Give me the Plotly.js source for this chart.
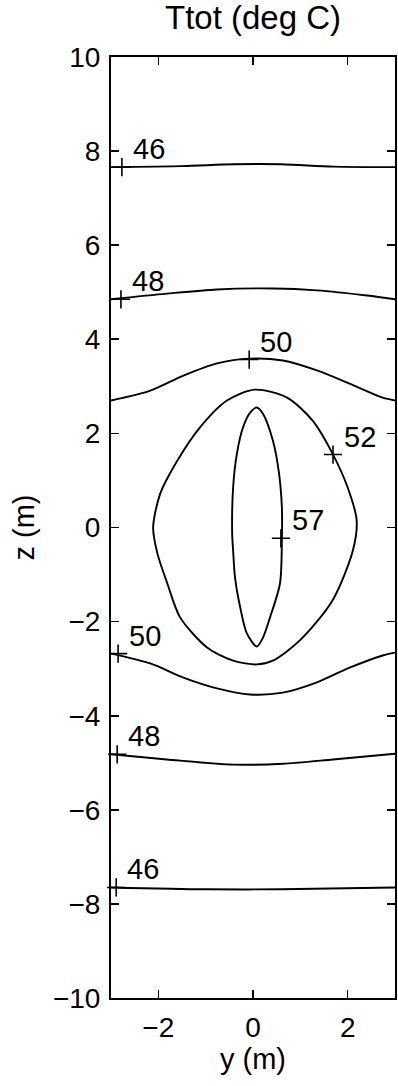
<!DOCTYPE html>
<html>
<head>
<meta charset="utf-8">
<script src="https://cdn.plot.ly/plotly-3.0.1.min.js"></script>
<style>
  html, body { margin: 0; padding: 0; background: #fff; }
  #chart { width: 398px; height: 1086px; }
</style>
</head>
<body>
<div id="chart"></div>
<script>
// Ttot (deg C) contour lines
// y = horizontal position (m), z = height (m)

// 46 contours (top and bottom)
var c46TopY = [-3, -1.5, -0.4, 0.6, 1.7, 3];
var c46TopZ = [7.66, 7.68, 7.72, 7.72, 7.67, 7.66];
var c46BotY = [-3, -1.0, 0.6, 3];
var c46BotZ = [-7.65, -7.69, -7.69, -7.65];

// 48 contours
var c48TopY = [-3, -1.82, -0.76, 0.42, 1.35, 2.41, 3];
var c48TopZ = [4.85, 4.97, 5.06, 5.08, 5.04, 4.93, 4.85];
var c48BotY = [-3, -1.82, -0.42, 0.63, 1.69, 3];
var c48BotZ = [-4.82, -4.93, -5.04, -5.02, -4.93, -4.81];

// 50 contours
var c50TopY = [-3, -2.17, -1.47, -0.76, -0.06, 0.63, 1.35, 2.04, 2.74, 3];
var c50TopZ = [2.70, 2.91, 3.23, 3.49, 3.59, 3.55, 3.34, 3.06, 2.76, 2.70];
var c50BotY = [-3, -2.17, -1.47, -0.76, -0.06, 0.63, 1.35, 2.04, 2.74, 3];
var c50BotZ = [-2.68, -2.89, -3.19, -3.42, -3.55, -3.51, -3.29, -2.98, -2.72, -2.66];

// 52 closed contour
var c52Y = [0.04, 0.72, 1.26, 1.68, 2.00, 2.19, 2.11, 1.68, 0.99, 0.42, 0.08,
            -0.42, -0.97, -1.54, -1.81, -2.02, -2.11, -1.96, -1.60, -1.12, -0.55, 0.04];
var c52Z = [2.93, 2.76, 2.27, 1.57, 0.85, 0.15, -0.49, -1.55, -2.40, -2.83, -2.91,
            -2.83, -2.55, -1.91, -1.19, -0.55, 0.00, 0.72, 1.42, 2.13, 2.70, 2.93];

// 57 closed contour
var c57Y = [0.08, 0.21, 0.42, 0.55, 0.61, 0.61, 0.57, 0.36, 0.21, 0.08,
            -0.13, -0.27, -0.38, -0.42, -0.44, -0.42, -0.34, -0.21, -0.06, 0.08];
var c57Z = [2.55, 2.42, 1.85, 1.15, 0.43, -0.28, -1.19, -1.91, -2.34, -2.53,
            -2.25, -1.70, -1.06, -0.49, -0.13, 0.85, 1.57, 2.13, 2.44, 2.55];

// contour label positions (the "+" marks) and their texts
var labelY = [-2.77, -2.79, -0.08, 1.69, 0.59, -2.85, -2.87, -2.89];
var labelZ = [7.66, 4.85, 3.57, 1.55, -0.23, -2.68, -4.82, -7.65];
var labelText = ['46', '48', '50', '52', '57', '50', '48', '46'];

var FONT = 'Liberation Sans, Arial, Helvetica, sans-serif';

function contourLine(xs, ys) {
  return {
    x: xs, y: ys,
    type: 'scatter', mode: 'lines',
    line: { color: '#000', width: 1.9, shape: 'spline', smoothing: 0.8 },
    hoverinfo: 'skip', showlegend: false
  };
}

var data = [
  contourLine(c46TopY, c46TopZ),
  contourLine(c46BotY, c46BotZ),
  contourLine(c48TopY, c48TopZ),
  contourLine(c48BotY, c48BotZ),
  contourLine(c50TopY, c50TopZ),
  contourLine(c50BotY, c50BotZ),
  contourLine(c52Y, c52Z),
  contourLine(c57Y, c57Z),
  {
    x: labelY, y: labelZ,
    type: 'scatter', mode: 'markers',
    marker: { symbol: 'cross-thin', size: 13, line: { color: '#000', width: 1.6 } },
    cliponaxis: false, showlegend: false, hoverinfo: 'skip'
  }
];

// contour value texts sit up and to the right of each "+"
var annotations = labelText.map(function (t, i) {
  return {
    x: labelY[i], y: labelZ[i], text: t,
    xref: 'x', yref: 'y', showarrow: false,
    xanchor: 'left', yanchor: 'middle',
    xshift: 9, yshift: 18,
    font: { family: FONT, size: 29, color: '#000' }
  };
});

var layout = {
  width: 398, height: 1086,
  margin: { l: 111, r: 3, t: 57, b: 88 },
  paper_bgcolor: '#fff', plot_bgcolor: '#fff',
  font: { family: FONT, size: 28, color: '#000' },
  title: {
    text: 'Ttot (deg C)',
    font: { size: 33 },
    x: 0.5, xref: 'paper',
    y: 1 - 17 / 1086, yref: 'container', yanchor: 'middle'
  },
  annotations: annotations,
  xaxis: {
    range: [-3, 3],
    tickvals: [-2, 0, 2],
    ticks: 'inside', ticklen: 8, tickwidth: 1.6, tickcolor: '#000',
    showline: true, linecolor: '#000', linewidth: 2, mirror: 'ticks',
    showgrid: false, zeroline: false,
    ticklabelstandoff: 3,
    title: { text: 'y (m)', font: { size: 29 }, standoff: 4 }
  },
  yaxis: {
    range: [-10, 10],
    tickvals: [-10, -8, -6, -4, -2, 0, 2, 4, 6, 8, 10],
    ticks: 'inside', ticklen: 8, tickwidth: 1.6, tickcolor: '#000',
    showline: true, linecolor: '#000', linewidth: 2, mirror: 'ticks',
    showgrid: false, zeroline: false,
    ticklabelstandoff: 3,
    title: { text: 'z (m)', font: { size: 29 }, standoff: 10 }
  }
};

Plotly.newPlot('chart', data, layout, { staticPlot: true });
</script>
</body>
</html>
